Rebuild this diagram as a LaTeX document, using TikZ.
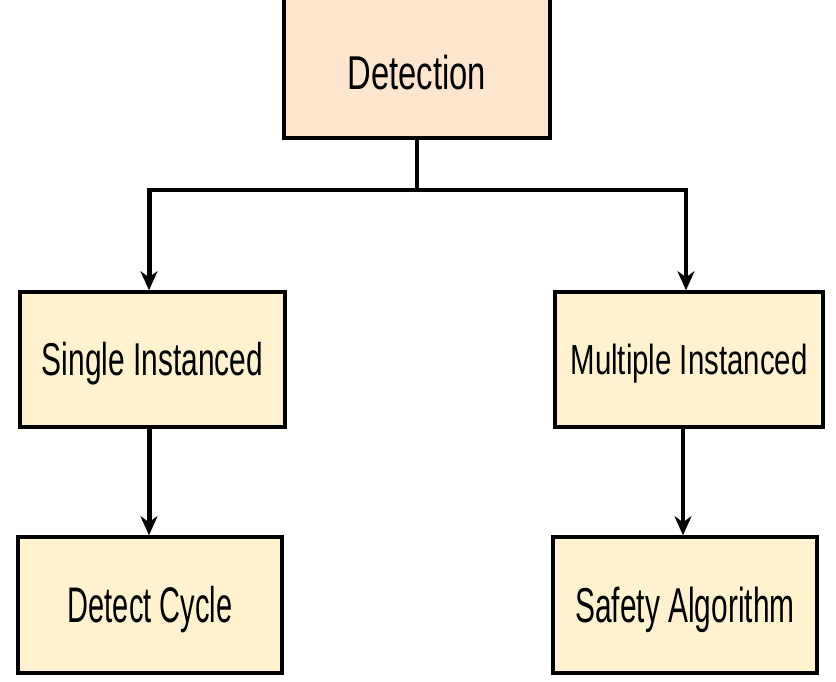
\documentclass[tikz,border=0pt]{standalone}
\usepackage{fontspec}
\setmainfont{Liberation Sans}
\usepackage{graphicx}
\usetikzlibrary{arrows.meta}
\definecolor{topfill}{RGB}{253,229,206}
\definecolor{boxfill}{RGB}{255,242,206}
\newcommand{\boxlabel}[3]{\fontsize{#1}{#1}\selectfont\scalebox{#2}[1]{\raisebox{0pt}[.716em][0pt]{#3}}}

\begin{document}
\begin{tikzpicture}[x=1pt,y=-1pt,
  box/.style={rectangle,draw,line width=3.5pt,fill=boxfill,inner sep=0pt,minimum width=265pt,minimum height=135pt},
  tip/.style={-{Stealth[length=19pt,width=17pt,inset=6pt]}}]
\useasboundingbox (0,0) rectangle (836,682);
\node[box,fill=topfill,line width=4.5pt,minimum width=266pt,text height=120pt,text depth=48pt,anchor=base] (detection) at (417,90) {\boxlabel{47.5}{0.69}{Detection}};
\node[box] (single) at (152.5,359.5) {\boxlabel{46}{0.65}{Single Instanced}};
\node[box,minimum width=268pt] (multiple) at (689,359.5) {\boxlabel{42}{0.70}{Multiple Instanced}};
\node[box,minimum width=264pt,minimum height=136pt] (cycle) at (150,605) {\boxlabel{50}{0.58}{Detect Cycle}};
\node[box,minimum width=264pt,minimum height=136pt] (safety) at (685,605) {\boxlabel{49}{0.61}{Safety Algorithm}};
\coordinate (fork) at (417,190);
\coordinate (lcorner) at (149,190);
\coordinate (rcorner) at (686,190);
\coordinate (rdown) at (683,0);
\draw[line width=4.3pt] (detection.south) -- (fork);
\draw[line width=3.5pt,line cap=rect] (lcorner) -- (rcorner);
\draw[tip,line width=5pt] (lcorner) -- (lcorner |- single.north);
\draw[tip,line width=3.3pt] (rcorner) -- (rcorner |- multiple.north);
\draw[tip,line width=5pt] (single.south -| lcorner) -- (cycle.north -| lcorner);
\draw[tip,line width=3.3pt] (multiple.south -| rdown) -- (safety.north -| rdown);
\end{tikzpicture}
\end{document}
